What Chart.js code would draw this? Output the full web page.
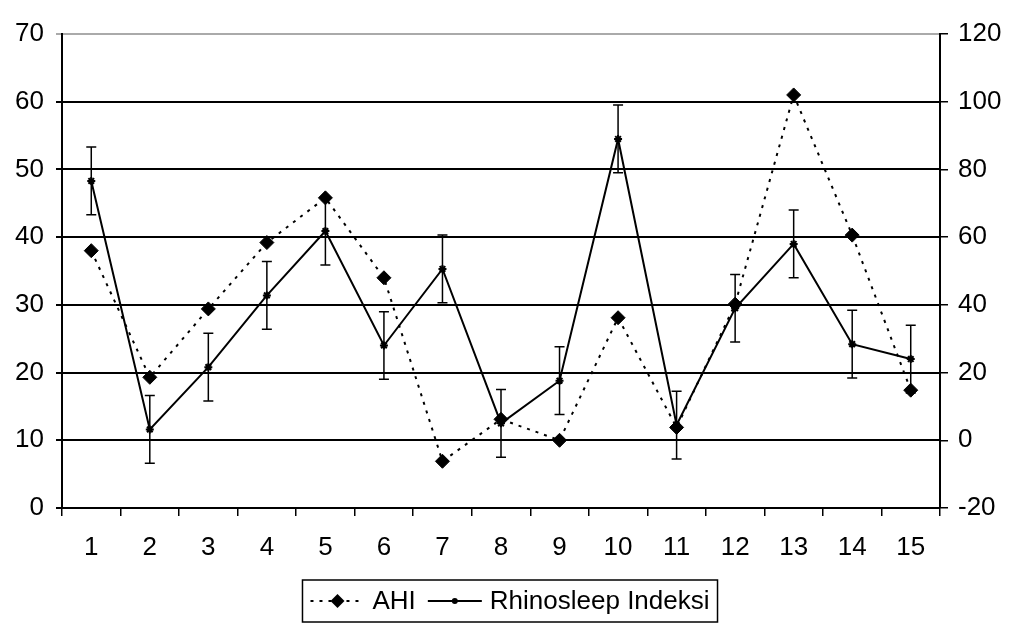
<!DOCTYPE html>
<html>
<head>
<meta charset="utf-8">
<script src="https://cdn.jsdelivr.net/npm/chart.js@4/dist/chart.umd.min.js"></script>
<style>
  body { margin: 0; background: #fff; }
  canvas { display: block; }
</style>
</head>
<body>
<canvas id="myDiagram" width="1018" height="630"></canvas>
<script>
// data
const categories = ['1', '2', '3', '4', '5', '6', '7', '8', '9', '10', '11', '12', '13', '14', '15'];
const ahi = [38, 19.3, 29.4, 39.2, 45.8, 34, 6.9, 13.1, 10, 28.1, 11.9, 30.1, 61, 40.3, 17.4];
const rhinosleep = [76.6, 3.2, 21.6, 42.8, 61.8, 28, 50.6, 5, 17.6, 89, 4.5, 39, 58, 28.4, 24];
const rhinosleepErr = [10, 10, 10, 10, 10, 10, 10, 10, 10, 10, 10, 10, 10, 10, 10];
const leftTicks = { min: 0, max: 70, step: 10 };
const rightTicks = { min: -20, max: 120, step: 20 };

const FONT = 'Liberation Sans, Arial, sans-serif';

const errorBars = {
    id: 'errorBars',
    afterDatasetsDraw(chart) {
        const ctx = chart.ctx;
        const xs = chart.scales.x;
        const yr = chart.scales.y1;
        ctx.save();
        ctx.strokeStyle = '#000';
        ctx.lineWidth = 1.5;
        rhinosleep.forEach((v, i) => {
            const x = xs.getPixelForValue(i);
            const top = yr.getPixelForValue(v + rhinosleepErr[i]);
            const bot = yr.getPixelForValue(v - rhinosleepErr[i]);
            ctx.beginPath();
            ctx.moveTo(x, top); ctx.lineTo(x, bot);
            ctx.moveTo(x - 5, top); ctx.lineTo(x + 5, top);
            ctx.moveTo(x - 5, bot); ctx.lineTo(x + 5, bot);
            ctx.stroke();
        });
        ctx.restore();
    }
};

// Excel-style legend box under the chart
const boxLegend = {
    id: 'boxLegend',
    afterDraw(chart) {
        const ctx = chart.ctx;
        ctx.save();
        ctx.font = '26px ' + FONT;
        const sample = 54, gapIn = 8, gapItem = 12, padX = 8;
        const labels = chart.data.datasets.map(d => d.label);
        const widths = labels.map(l => ctx.measureText(l).width);
        const total = padX * 2 + labels.length * (sample + gapIn) + widths.reduce((a, b) => a + b, 0) + gapItem * (labels.length - 1);
        const cx = 510, cy = 601, h = 42;
        let x = cx - total / 2;
        ctx.strokeStyle = '#000';
        ctx.lineWidth = 1.5;
        ctx.strokeRect(x, cy - h / 2, total, h);
        x += padX;
        chart.data.datasets.forEach((d, i) => {
            ctx.beginPath();
            ctx.setLineDash(d.borderDash || []);
            ctx.lineWidth = d.borderWidth;
            ctx.strokeStyle = '#000';
            ctx.moveTo(x, cy); ctx.lineTo(x + sample, cy);
            ctx.stroke();
            ctx.setLineDash([]);
            const mx = x + sample / 2;
            ctx.fillStyle = '#000';
            ctx.beginPath();
            if (d.pointStyle === 'rectRot') {
                const r = 7;
                ctx.moveTo(mx, cy - r); ctx.lineTo(mx + r, cy); ctx.lineTo(mx, cy + r); ctx.lineTo(mx - r, cy);
                ctx.closePath(); ctx.fill();
            } else {
                ctx.arc(mx, cy, 3, 0, Math.PI * 2); ctx.fill();
            }
            x += sample + gapIn;
            ctx.textBaseline = 'middle';
            ctx.fillText(labels[i], x, cy + 1);
            x += widths[i] + gapItem;
        });
        ctx.restore();
    }
};

const ctx = document.getElementById('myDiagram').getContext('2d');
const myChart = new Chart(ctx, {
    type: 'line',
    data: {
        labels: categories,
        datasets: [{
            label: 'AHI',
            data: ahi,
            yAxisID: 'y',
            borderColor: '#000',
            backgroundColor: '#000',
            borderWidth: 2,
            borderDash: [3, 6],
            pointStyle: 'rectRot',
            pointRadius: 7,
            pointBorderWidth: 1,
            tension: 0
        }, {
            label: 'Rhinosleep Indeksi',
            data: rhinosleep,
            yAxisID: 'y1',
            borderColor: '#000',
            backgroundColor: '#000',
            borderWidth: 2,
            pointStyle: 'star',
            pointRadius: 4,
            pointBorderWidth: 2,
            tension: 0
        }]
    },
    options: {
        responsive: false,
        animation: false,
        plugins: {
            legend: { display: false },
            tooltip: { enabled: false }
        },
        layout: {
            padding: { top: 34, left: 0, right: 0, bottom: 0 }
        },
        scales: {
            x: {
                offset: true,
                grid: { offset: true, drawOnChartArea: false, drawTicks: true, tickLength: 8, color: '#000', lineWidth: 1.5 },
                border: { display: true, color: '#000', width: 2 },
                ticks: { color: '#000', font: { family: FONT, size: 26 }, padding: 16, maxRotation: 0 },
                afterFit(scale) { scale.height = 122; }
            },
            y: {
                position: 'left',
                min: leftTicks.min,
                max: leftTicks.max,
                ticks: { stepSize: leftTicks.step, color: '#000', font: { family: FONT, size: 26 }, padding: 12 },
                grid: {
                    color: c => c.tick && c.tick.value === leftTicks.max ? '#aaa' : '#000',
                    lineWidth: 2,
                    tickLength: 6
                },
                border: { display: true, color: '#000', width: 2 },
                afterFit(scale) { scale.width = 62; }
            },
            y1: {
                position: 'right',
                min: rightTicks.min,
                max: rightTicks.max,
                ticks: { stepSize: rightTicks.step, color: '#000', font: { family: FONT, size: 26 }, padding: 10 },
                grid: { drawOnChartArea: false, tickLength: 8, color: '#000', lineWidth: 1.5 },
                border: { display: true, color: '#000', width: 2 },
                afterFit(scale) { scale.width = 78; }
            }
        }
    },
    plugins: [errorBars, boxLegend]
});
</script>
</body>
</html>
